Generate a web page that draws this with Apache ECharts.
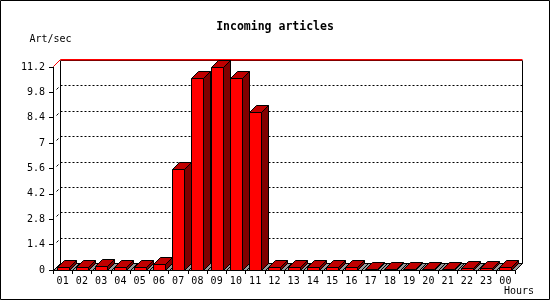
<!DOCTYPE html>
<html>
<head>
<meta charset="utf-8">
<script src="https://cdn.jsdelivr.net/npm/echarts@6/dist/echarts.min.js"></script>
<style>
html,body{margin:0;padding:0;background:#fff;}
#chart{width:550px;height:300px;}
</style>
</head>
<body>
<div id="chart"></div>
<script>
const categories = ['01','02','03','04','05','06','07','08','09','10','11','12','13','14','15','16','17','18','19','20','21','22','23','00'];
const articlesPerSec = [0.15,0.15,0.22,0.15,0.15,0.33,5.6,10.6,11.2,10.6,8.7,0.14,0.14,0.14,0.14,0.14,0.08,0.08,0.08,0.08,0.08,0.1,0.1,0.18];
const yTicks = [0,1.4,2.8,4.2,5.6,7,8.4,9.8,11.2];
const yMin = 0, yMax = 11.2, yStep = 1.4;

const FONT = 'DejaVu Sans Mono';
const D = 7;
const s = v => Math.round(v) + 0.5;

function renderFrame(params, api) {
  if (params.dataIndex !== 0) return null;
  const cs = params.coordSys;
  const x = cs.x, y = cs.y, w = cs.width, h = cs.height;
  const n = categories.length, bw = w / n;
  const ch = [];
  const yb = s(y + h);
  ch.push({type:'polygon', shape:{points:[[s(x),yb],[s(x+w),yb],[s(x+w)+D,yb-D],[s(x)+D,yb-D]]},
    style:{fill:'#999999', stroke:'#000', lineWidth:1}});
  for (let i = 0; i <= n; i++) {
    const xx = s(x + i*bw);
    ch.push({type:'line', shape:{x1:xx,y1:yb,x2:xx+D,y2:yb-D}, style:{stroke:'#000',lineWidth:1}});
  }
  ch.push({type:'line', shape:{x1:s(x)+D,y1:s(y)-D,x2:s(x)+D,y2:yb-D}, style:{stroke:'#000',lineWidth:1}});
  ch.push({type:'line', shape:{x1:s(x+w)+D,y1:s(y)-D,x2:s(x+w)+D,y2:yb-D}, style:{stroke:'#000',lineWidth:1}});
  yTicks.forEach(v => {
    if (v <= yMin || v >= yMax) return;
    const yy = s(api.coord([0, v])[1]);
    ch.push({type:'line', shape:{x1:s(x)+D,y1:yy-D,x2:s(x+w)+D,y2:yy-D}, style:{stroke:'#000',lineWidth:1,lineDash:[2,2]}});
    ch.push({type:'line', shape:{x1:s(x)+3,y1:yy-3,x2:s(x)+5,y2:yy-5}, style:{stroke:'#000',lineWidth:1}});
  });
  ch.push({type:'line', shape:{x1:s(x)+D,y1:s(y)-D,x2:s(x+w)+D,y2:s(y)-D}, style:{stroke:'#800000',lineWidth:1}});
  ch.push({type:'polyline', shape:{points:[[s(x),s(y)-1],[s(x)+D,s(y)-D-1],[s(x+w)+D,s(y)-D-1]]},
    style:{stroke:'#ff0000',lineWidth:1,fill:null}});
  return {type:'group', children: ch};
}

function renderBar(params, api) {
  const i = api.value(0), v = api.value(1);
  const top = api.coord([i, v]);
  const base = api.coord([i, 0]);
  const bw = api.size([1, 0])[0];
  const xl = s(top[0] - bw*0.31), xr = s(top[0] + bw*0.31);
  const yt = s(top[1]), yb = s(base[1]);
  const st = {stroke:'#000', lineWidth:1};
  return {type:'group', children:[
    {type:'polygon', shape:{points:[[xr,yt],[xr,yb],[xr+D,yb-D],[xr+D,yt-D]]}, style:Object.assign({fill:'#800000'},st)},
    {type:'polygon', shape:{points:[[xl,yt],[xr,yt],[xr+D,yt-D],[xl+D,yt-D]]}, style:Object.assign({fill:'#c00000'},st)},
    {type:'polygon', shape:{points:[[xl,yt],[xr,yt],[xr,yb],[xl,yb]]}, style:Object.assign({fill:'#ff0000'},st)}
  ]};
}

const chart = echarts.init(document.getElementById('chart'), null, {renderer:'canvas'});
chart.setOption({
  backgroundColor:'#fff',
  animation:false,
  title:{text:'Incoming articles', left:'center', top:21, padding:0,
    textStyle:{fontFamily:FONT, fontWeight:'bold', fontSize:11.5, color:'#000'}},
  grid:{left:53, top:67, width:462, height:203},
  xAxis:{type:'category', data:categories, boundaryGap:true,
    name:'Hours', nameLocation:'end', nameGap:19,
    nameTextStyle:{fontFamily:FONT, fontSize:10, color:'#000', align:'right', verticalAlign:'top', padding:[16,0,0,0]},
    axisLine:{show:true, lineStyle:{color:'#000', width:1}},
    axisTick:{show:true, interval:0, length:4, lineStyle:{color:'#000'}},
    axisLabel:{interval:0, margin:6, fontFamily:FONT, fontSize:10, color:'#000'},
    splitLine:{show:false}},
  yAxis:{type:'value', min:yMin, max:yMax, interval:yStep,
    name:'Art/sec', nameLocation:'end', nameGap:23,
    nameTextStyle:{fontFamily:FONT, fontSize:10, color:'#000', align:'center', padding:[0,5,0,0]},
    axisLine:{show:true, lineStyle:{color:'#000', width:1}},
    axisTick:{show:true, length:4, lineStyle:{color:'#000'}},
    axisLabel:{margin:8, fontFamily:FONT, fontSize:10, color:'#000', formatter:v => String(+v.toFixed(1))},
    splitLine:{show:false}},
  graphic:[{type:'rect', shape:{x:0.5,y:0.5,width:549,height:299}, style:{fill:null, stroke:'#000', lineWidth:1}, z:100, silent:true}],
  series:[
    {type:'custom', name:'frame', renderItem:renderFrame, data:[[0,0]], clip:false, silent:true, z:1},
    {type:'custom', name:'Incoming articles', renderItem:renderBar, clip:false, z:2,
      data:articlesPerSec.map((v,i)=>[i,v]), encode:{x:0,y:1}}
  ]
});
</script>
</body>
</html>
